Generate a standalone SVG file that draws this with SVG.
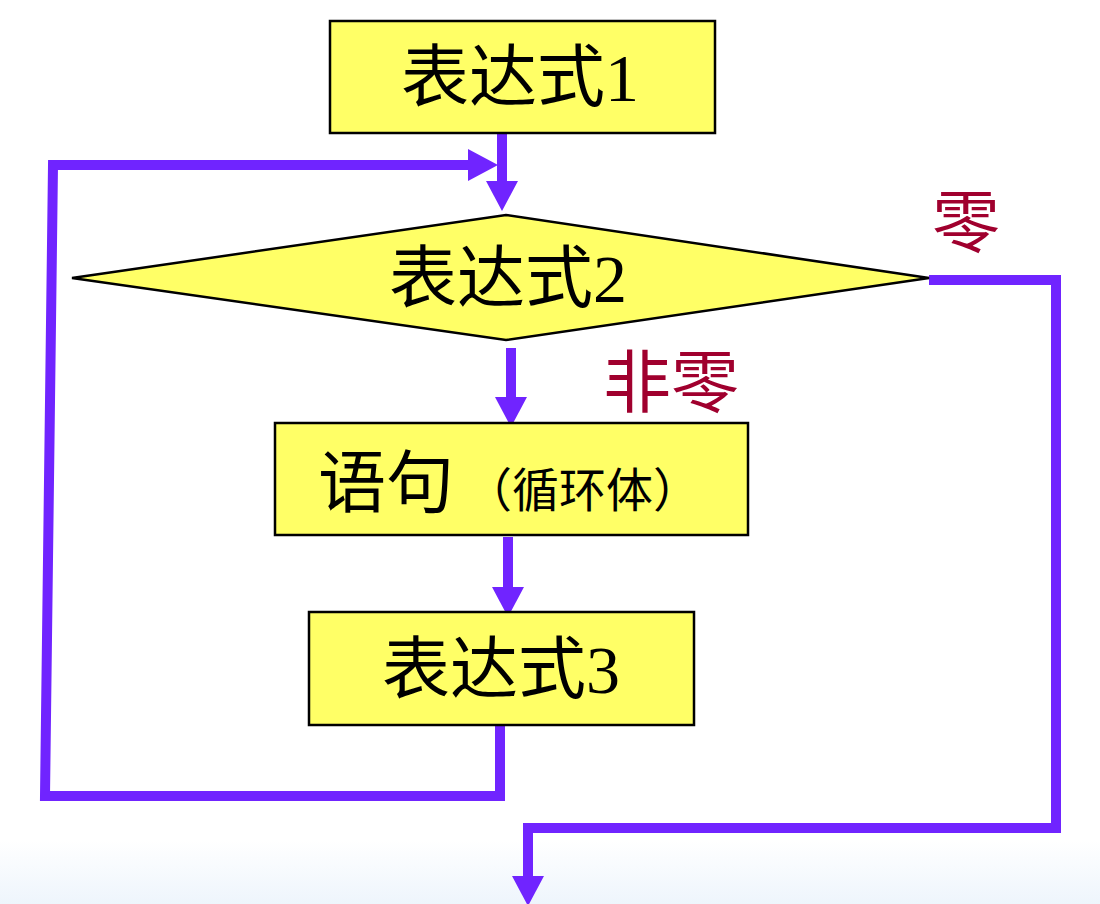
<svg xmlns="http://www.w3.org/2000/svg" width="1100" height="904" viewBox="0 0 1100 904">
<style>
.node{fill:#FFFF66;stroke:#000;stroke-width:2.5}
.main{font-family:"Liberation Serif","Noto Sans CJK SC",serif;font-size:68px;fill:#000;text-anchor:middle}
.lbl{font-family:"Noto Sans CJK SC",sans-serif;font-size:68px;fill:#A0002E}
.conn{fill:none;stroke:#7024FF;stroke-width:10;stroke-linejoin:miter}
</style>
<defs>
<linearGradient id="bg" x1="0" y1="0" x2="0" y2="1">
<stop offset="0" stop-color="#FFFFFF"/>
<stop offset="1" stop-color="#EEF5FC"/>
</linearGradient>
<marker id="ah" markerUnits="userSpaceOnUse" markerWidth="30" markerHeight="32" viewBox="0 0 30 32" refX="0" refY="16" orient="auto">
<path d="M0,0 L30,16 L0,32 z" fill="#7024FF"/>
</marker>
</defs>
<rect x="0" y="0" width="1100" height="904" fill="#FFFFFF"/>
<rect x="0" y="840" width="1100" height="64" fill="url(#bg)"/>

<g id="connectors">
<path class="conn" d="M502,133 L502,181" marker-end="url(#ah)"/>
<path class="conn" d="M500,725 L500,796 L45,796 L53,165 L468,165" marker-end="url(#ah)"/>
<path class="conn" d="M511,348 L511,397" marker-end="url(#ah)"/>
<path class="conn" d="M508,537 L508,587" marker-end="url(#ah)"/>
<path class="conn" d="M929,280 L1056,280 L1056,828 L528,828 L528,876" marker-end="url(#ah)"/>
</g>

<g id="expr1">
<rect class="node" x="330" y="21" width="385" height="112"/>
<text class="main" x="520" y="101">表达式1</text>
</g>

<g id="expr2">
<polygon class="node" points="72,278 506,215 929,278 506,340"/>
<text class="main" x="508" y="302">表达式2</text>
</g>

<g id="stmt">
<rect class="node" x="275" y="423" width="473" height="112"/>
<text class="main" style="text-anchor:start"><tspan x="318" y="507">语句</tspan><tspan x="465" y="507" style="font-size:47px">（循环体）</tspan></text>
</g>

<g id="expr3">
<rect class="node" x="309" y="612" width="385" height="113"/>
<text class="main" x="501" y="693">表达式3</text>
</g>

<g id="labels">
<text class="lbl" x="603" y="407">非零</text>
<text class="lbl" x="932" y="247">零</text>
</g>
</svg>
